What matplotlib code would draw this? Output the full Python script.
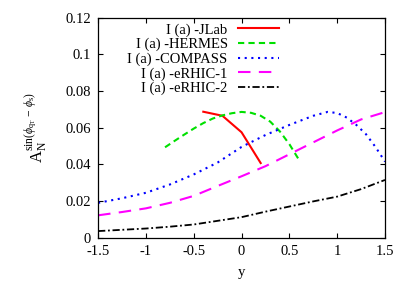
import numpy as np
import matplotlib
matplotlib.use("Agg")
import matplotlib.pyplot as plt

plt.rcParams["font.family"] = ["Liberation Serif", "DejaVu Serif"]
plt.rcParams["mathtext.fontset"] = "custom"
plt.rcParams["mathtext.rm"] = "Liberation Serif"
plt.rcParams["mathtext.it"] = "Liberation Serif:italic"

# data
jlab_y = [-0.4, -0.2, 0.0, 0.2]
jlab_a = [0.0687, 0.0665, 0.0575, 0.0407]

hermes_y = [-0.8, -0.7, -0.6, -0.5, -0.4, -0.3, -0.2, -0.1, 0.0, 0.1, 0.2, 0.3, 0.4, 0.5, 0.6]
hermes_a = [0.0493, 0.0528, 0.0562, 0.0595, 0.0625, 0.0650, 0.0667, 0.0679, 0.0686,
            0.0681, 0.0665, 0.0633, 0.0580, 0.0510, 0.0425]

compass_y = [-1.5, -1.25, -1.0, -0.75, -0.5, -0.25, 0.0, 0.25, 0.5, 0.75, 0.9, 1.0, 1.1,
             1.2, 1.3, 1.4, 1.5]
compass_a = [0.0190, 0.0215, 0.0245, 0.0290, 0.0345, 0.0410, 0.0495, 0.0560, 0.0615,
             0.0665, 0.0686, 0.0680, 0.0655, 0.0615, 0.0565, 0.0495, 0.0415]

erhic1_y = [-1.5, -1.25, -1.0, -0.75, -0.5, -0.25, 0.0, 0.25, 0.5, 0.75, 1.0, 1.25, 1.5]
erhic1_a = [0.0122, 0.0140, 0.0160, 0.0190, 0.0228, 0.0282, 0.0335, 0.0390, 0.0455,
            0.0520, 0.0585, 0.0645, 0.0685]

erhic2_y = [-1.5, -1.25, -1.0, -0.75, -0.5, -0.25, 0.0, 0.25, 0.5, 0.75, 1.0, 1.25, 1.5]
erhic2_a = [0.0036, 0.0043, 0.0050, 0.0060, 0.0072, 0.0092, 0.0112, 0.0142, 0.0170,
            0.0198, 0.0224, 0.0265, 0.0315]

xticks = [-1.5, -1.0, -0.5, 0.0, 0.5, 1.0, 1.5]
xtick_labels = ["-1.5", "-1", "-0.5", "0", "0.5", "1", "1.5"]
yticks = [0.0, 0.02, 0.04, 0.06, 0.08, 0.10, 0.12]
ytick_labels = ["0", "0.02", "0.04", "0.06", "0.08", "0.1", "0.12"]

fig = plt.figure(figsize=(4.07, 2.85), dpi=100)
ax = fig.add_axes([0.241, 0.166, 0.705, 0.772])

ax.plot(jlab_y, jlab_a, color="#ff0000", lw=1.5, label="I (a) -JLab")
ax.plot(hermes_y, hermes_a, color="#00e000", lw=1.5, dashes=(3, 2), label="I (a) -HERMES")
ax.plot(compass_y, compass_a, color="#0000ff", lw=1.5, dashes=(1, 2.2), label="I (a) -COMPASS")
ax.plot(erhic1_y, erhic1_a, color="#ff00ff", lw=1.5, dashes=(6, 4), label="I (a) -eRHIC-1")
ax.plot(erhic2_y, erhic2_a, color="black", lw=1.3, dashes=(4, 1.5, 1, 1.5),
        label="I (a) -eRHIC-2")

ax.set_xlim(-1.5, 1.5)
ax.set_ylim(0, 0.12)
ax.set_xticks(xticks)
ax.set_xticklabels(xtick_labels)
ax.set_yticks(yticks)
ax.set_yticklabels(ytick_labels)
ax.tick_params(direction="in", top=True, right=True, length=3.5, labelsize=10.5, pad=5)
for s in ax.spines.values():
    s.set_linewidth(0.9)

ax.set_xlabel("y", fontsize=10.5, labelpad=6)
ax.set_ylabel(r"$\mathrm{A}_\mathrm{N}^{\mathrm{sin}(\phi_{\mathrm{q_T}}\,-\,\phi_\mathrm{s})}$",
              fontsize=12, labelpad=11)

ax.legend(loc="upper right", bbox_to_anchor=(0.66, 1.015), frameon=False, markerfirst=False,
          fontsize=10.5, labelspacing=0.08, handlelength=2.8, handletextpad=0.7,
          borderaxespad=0.2)

fig.savefig("out.png", dpi=100)
